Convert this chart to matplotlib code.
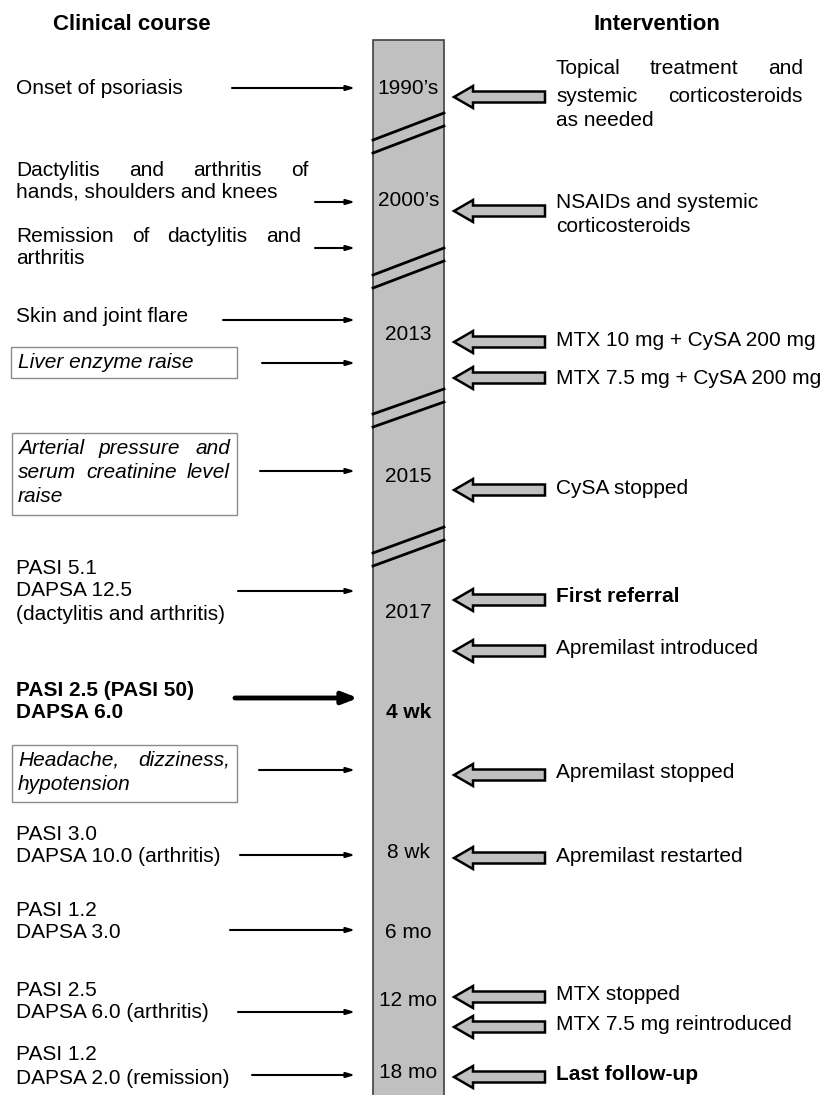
import matplotlib.pyplot as plt
from matplotlib.patches import Rectangle, Polygon

plt.rcParams['font.family'] = ['Liberation Sans', 'DejaVu Sans']

# ---- data ----
headers = ['Clinical course', 'Intervention']

time_labels = ["1990\u2019s", "2000\u2019s", '2013', '2015', '2017', '4 wk', '8 wk', '6 mo', '12 mo', '18 mo']
time_y = [88, 200, 335, 476, 612, 713, 853, 932, 1000, 1073]
time_bold = [False] * 5 + [True] + [False] * 4

# left column: (text lines, line y, arrow start x, arrow y)
clin_text = [
    ['Onset of psoriasis'],
    ['Dactylitis and arthritis of', 'hands, shoulders and knees'],
    ['Remission of dactylitis and', 'arthritis'],
    ['Skin and joint flare'],
    ['Liver enzyme raise'],
    ['Arterial pressure and', 'serum creatinine level', 'raise'],
    ['PASI 5.1', 'DAPSA 12.5', '(dactylitis and arthritis)'],
    ['PASI 2.5 (PASI 50)', 'DAPSA 6.0'],
    ['Headache, dizziness,', 'hypotension'],
    ['PASI 3.0', 'DAPSA 10.0 (arthritis)'],
    ['PASI 1.2', 'DAPSA 3.0'],
    ['PASI 2.5', 'DAPSA 6.0 (arthritis)'],
    ['PASI 1.2', 'DAPSA 2.0 (remission)'],
]
clin_y = [[88], [170, 192], [237, 259], [317], [363], [449, 472, 496],
          [569, 591, 614], [690, 713], [760, 784], [834, 857], [910, 933],
          [990, 1013], [1055, 1078]]
clin_arrow_x = [232, 315, 315, 223, 262, 260, 238, 235, 259, 240, 230, 238, 252]
clin_arrow_y = [88, 202, 248, 320, 363, 471, 591, 698, 770, 855, 930, 1012, 1075]
clin_style = ['', 'just', 'just', '', 'box', 'boxjust', '', 'bold', 'boxjust', '', '', '', '']
clin_right = [0, 308, 301, 0, 0, 230, 0, 0, 230, 0, 0, 0, 0]
clin_box = {4: (11, 347, 237, 378), 5: (12, 433, 237, 515), 8: (12, 745, 237, 802)}

# right column
interv_text = [
    ['Topical treatment and', 'systemic corticosteroids', 'as needed'],
    ['NSAIDs and systemic', 'corticosteroids'],
    ['MTX 10 mg + CySA 200 mg'],
    ['MTX 7.5 mg + CySA 200 mg'],
    ['CySA stopped'],
    ['First referral'],
    ['Apremilast introduced'],
    ['Apremilast stopped'],
    ['Apremilast restarted'],
    ['MTX stopped'],
    ['MTX 7.5 mg reintroduced'],
    ['Last follow-up'],
]
interv_y = [[68, 96, 120], [203, 227], [340], [378], [489], [597], [648],
            [773], [856], [995], [1025], [1075]]
interv_arrow_y = [97, 211, 342, 378, 490, 600, 651, 775, 858, 997, 1027, 1077]
interv_bold = [False] * 5 + [True] + [False] * 5 + [True]

# break marks on the time bar (left y, right y) per pair
breaks = [(140, 113), (275, 248), (414, 389), (553, 527)]

FS = 15
W, H = 823, 1095

fig = plt.figure(figsize=(W / 100, H / 100), dpi=100)
ax = fig.add_axes([0, 0, 1, 1])
ax.set_xlim(0, W)
ax.set_ylim(H, 0)
ax.axis('off')
renderer = fig.canvas.get_renderer()


def justify(line, x0, x1, y, **kw):
    words = line.split()
    ts = [ax.text(0, y, w, va='center', ha='left', fontsize=FS, **kw) for w in words]
    widths = [t.get_window_extent(renderer).width for t in ts]
    gap = (x1 - x0 - sum(widths)) / (len(words) - 1)
    x = x0
    for t, w in zip(ts, widths):
        t.set_x(x)
        x += w + gap


# headers
ax.text(132, 25, headers[0], ha='center', va='center', fontsize=16, fontweight='bold')
ax.text(657, 25, headers[1], ha='center', va='center', fontsize=16, fontweight='bold')

# time bar
ax.add_patch(Rectangle((373, 40), 71, H, facecolor='#c0c0c0', edgecolor='#404040', lw=1.2))
for yl, yr in breaks:
    for d in (0, 13):
        ax.plot([373, 444], [yl + d, yr + d], color='black', lw=2)
for lab, y, b in zip(time_labels, time_y, time_bold):
    ax.text(408.5, y, lab, ha='center', va='center', fontsize=FS,
            fontweight='bold' if b else 'normal')

# clinical course
for i, lines in enumerate(clin_text):
    st = clin_style[i]
    kw = {}
    if 'box' in st:
        kw['fontstyle'] = 'italic'
    if st == 'bold':
        kw['fontweight'] = 'bold'
    x0 = 18 if 'box' in st else 16
    for j, (line, y) in enumerate(zip(lines, clin_y[i])):
        if 'just' in st and j < len(lines) - 1:
            justify(line, x0, clin_right[i], y, **kw)
        else:
            ax.text(x0, y, line, ha='left', va='center', fontsize=FS, **kw)
    if i in clin_box:
        bx0, by0, bx1, by1 = clin_box[i]
        ax.add_patch(Rectangle((bx0, by0), bx1 - bx0, by1 - by0, fill=False,
                               edgecolor='#8c8c8c', lw=1))
    if st == 'bold':
        aprops = dict(arrowstyle='-|>,head_length=0.9,head_width=0.35', lw=3.5,
                      color='black', shrinkA=0, shrinkB=0)
        xe = 358
    else:
        aprops = dict(arrowstyle='-|>,head_length=0.5,head_width=0.15', lw=1.5,
                      color='black', shrinkA=0, shrinkB=0)
        xe = 355
    ax.annotate('', xy=(xe, clin_arrow_y[i]), xytext=(clin_arrow_x[i], clin_arrow_y[i]),
                arrowprops=aprops)

# interventions
for i, lines in enumerate(interv_text):
    y = interv_arrow_y[i]
    pts = [(454, y), (473, y - 11), (473, y - 5.5), (545, y - 5.5),
           (545, y + 5.5), (473, y + 5.5), (473, y + 11)]
    ax.add_patch(Polygon(pts, closed=True, facecolor='#c0c0c0', edgecolor='black',
                         lw=1.8, joinstyle='miter'))
    kw = {'fontweight': 'bold'} if interv_bold[i] else {}
    for j, (line, ly) in enumerate(zip(lines, interv_y[i])):
        if i == 0 and j < 2:
            justify(line, 556, 803, ly, **kw)
        else:
            ax.text(556, ly, line, ha='left', va='center', fontsize=FS, **kw)

fig.savefig('out.png', dpi=100)
